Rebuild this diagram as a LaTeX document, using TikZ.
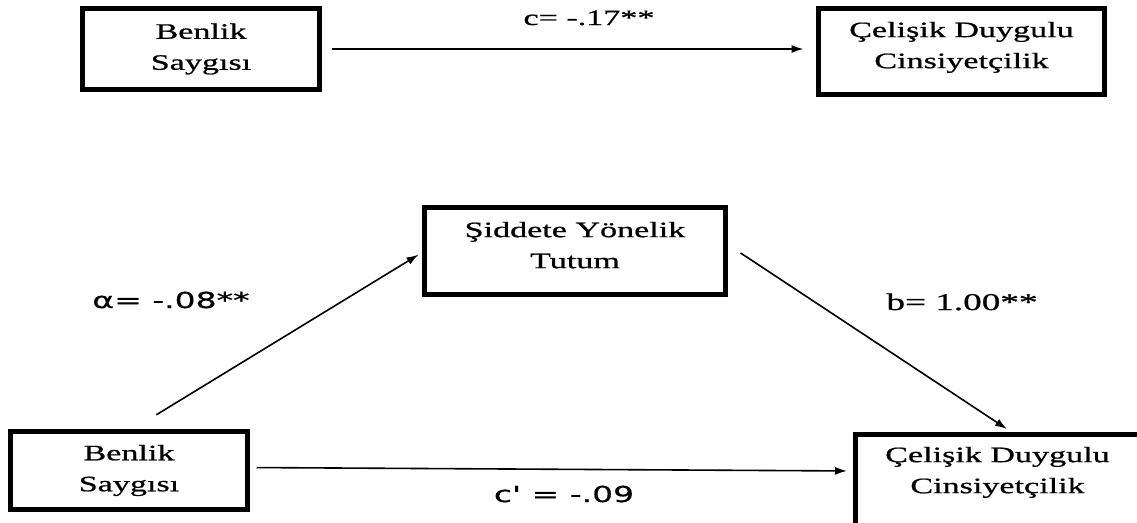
\documentclass[tikz,border=0pt]{standalone}
\usepackage{fontspec}
\setmainfont{Liberation Serif}
\newfontfamily\kutufont[FakeStretch=1.55,FakeBold=0.8]{Liberation Serif}
\newfontfamily\katsayifont[FakeStretch=1.5,FakeBold=0.6,Ligatures=TeXOff]{DejaVu Sans}
\usetikzlibrary{arrows.meta}

\begin{document}
\begin{tikzpicture}[x=1pt, y=-1pt,
		kutu/.style={draw, line width=5pt, outer sep=0pt, inner sep=0pt, align=center, font=\kutufont\fontsize{22}{31}\selectfont},
		ok/.style={-{Latex[length=12pt,width=8pt]}, line width=1.6pt},
		katsayi/.style={anchor=base, inner sep=0pt, font=\kutufont\fontsize{22}{26}\selectfont},
		sanskatsayi/.style={katsayi, font=\katsayifont\fontsize{22}{26}\selectfont}]
			%%%%% START %%%%%
			
			\path[use as bounding box, fill=white] (0,0) rectangle (1137,522);
			
			%% total effect
			\node[kutu, minimum width=237pt, minimum height=81pt] (bs1) at (201,49) {Benlik\\Saygısı};
			\node[kutu, minimum width=286pt, minimum height=86pt, text depth=13pt] (cdc1) at (961.5,51.5) {Çelişik Duygulu\\Cinsiyetçilik};
			\node[katsayi] (c) at (589,25) {c= -.17**};
			\draw[ok, shorten <=12pt, shorten >=15pt] (bs1.east) -- (bs1.east -| cdc1.west);
			
			%% mediation
			\node[kutu, minimum width=301pt, minimum height=87pt, text depth=12pt] (sy) at (575,251) {Şiddete Yönelik\\Tutum};
			\node[kutu, minimum width=237pt, minimum height=78pt] (bs2) at (129,470.5) {Benlik\\Saygısı};
			\node[kutu, minimum width=285pt, minimum height=91pt, text depth=19pt] (cdc2) at (997.5,479.5) {Çelişik Duygulu\\Cinsiyetçilik};
			
			\node[sanskatsayi] (a) at (171,308) {α= -.08**};
			\node[katsayi, font=\kutufont\fontsize{24}{28}\selectfont] (b) at (962,310) {b= 1.00**};
			\node[sanskatsayi] (cp) at (564,502) {c' = -.09};
			
			\draw[ok, shorten <=32pt, shorten >=7pt] (bs2.north) -- (sy.west);
			\draw[ok, shorten <=18pt, shorten >=9pt] ([yshift=8pt]sy.east) -- ([xshift=17pt]cdc2.north);
			\draw[ok, shorten <=9pt, shorten >=8pt] ([yshift=3pt]bs2.east) -- ([yshift=8.5pt]cdc2.west);
			
			%%%%% END %%%%%
\end{tikzpicture}
\end{document}
